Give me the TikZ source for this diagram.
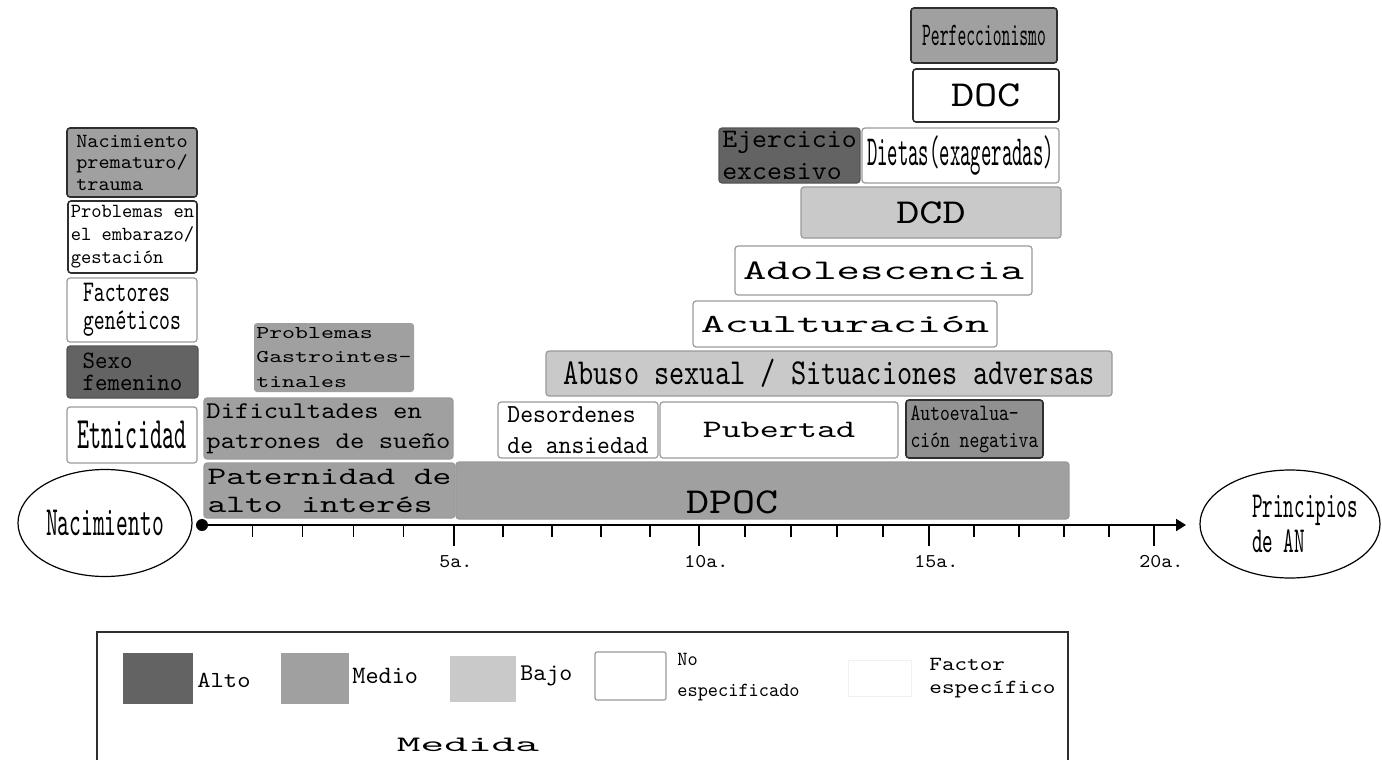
\documentclass[tikz,border=0pt]{standalone}
\usepackage{fontspec}
\newfontfamily\mono{lmmono10-regular.otf}
\usetikzlibrary{arrows.meta, shapes.geometric}
\definecolor{alto}{HTML}{636363}
\definecolor{medio}{HTML}{A0A0A0}
\definecolor{bajo}{HTML}{C9C9C9}
\definecolor{edge}{HTML}{9A9A9A}
\definecolor{darkedge}{HTML}{2E2E2E}
% size, leading, horizontal stretch
\newcommand\fz[3]{\fontsize{#1pt}{#2pt}\selectfont\addfontfeature{FakeStretch=#3}}

\begin{document}
\begin{tikzpicture}[x=0.5pt, y=-0.5pt,
    span/.style n args={4}{minimum width={(#3-#1)*0.5pt}, minimum height={(#4-#2)*0.5pt},
      at={({(#1+#3)/2},{(#2+#4)/2})}},
    fac/.style={draw=edge, rounded corners=1.5pt, line width=0.6pt, inner sep=0pt, align=left},
    hi/.style={fac, fill=alto, draw=alto!85!black},
    mid/.style={fac, fill=medio},
    low/.style={fac, fill=bajo},
    nsp/.style={fac, fill=white},
    strong/.style={draw=darkedge, line width=0.8pt},
    hito/.style={ellipse, draw, line width=0.6pt, inner sep=0pt, align=left},
    tick/.style={line width=0.6pt},
    sw/.style={inner sep=0pt},
    lbl/.style={inner sep=0pt, anchor=west, align=left}]
  \useasboundingbox (0,0) rectangle (1382,760);

  % left column: before birth
  \node[mid, strong, span={67}{128}{197}{197}, font=\mono\fz{10}{10.75}{1.06}] (nacprem)
    {Nacimiento\\prematuro/\\trauma};
  \node[nsp, strong, span={68}{201}{197}{273}, font=\mono\fz{10}{11.5}{0.98}] (embar)
    {Problemas en\\el embarazo/\\gestación};
  \node[nsp, span={67}{278}{197}{342}, font=\mono\fz{15}{14}{0.69}] (genet)
    {Factores\\genéticos};
  \node[hi, span={67}{346}{198}{398}, font=\mono\fz{12.5}{11}{0.95}] (sexo)
    {Sexo\\femenino};
  \node[nsp, span={67}{407}{197}{463}, font=\mono\fz{22.5}{24}{0.51}] (etni) {Etnicidad};

  % childhood
  \node[mid, draw=none, span={254}{323}{414}{392}, font=\mono\fz{9}{12.25}{1.37}] (gastro)
    {Problemas\\Gastrointes-\\tinales};
  \node[mid, span={204}{398}{453}{459}, font=\mono\fz{12}{15}{1.14}] (dific)
    {Dificultades en\\patrones de sueño};
  \node[mid, span={204}{463}{455}{518}, font=\mono\fz{12.5}{14}{1.43}] (pater)
    {Paternidad de\\alto interés};
  \node[mid, span={456}{462}{1069}{519}, text height=25.5pt, text depth=3pt,
    font=\mono\fz{18.3}{20}{1.2}] (dpoc) {DPOC\hspace*{30pt}};
  \node[nsp, span={498}{402}{658}{458}, font=\mono\fz{13}{15.5}{0.94}] (desord)
    {Desordenes\\de ansiedad};
  \node[nsp, span={660}{402}{898}{458}, font=\mono\fz{12.5}{14}{1.45}] (pub) {Pubertad};
  \node[fac, strong, fill=medio!90!black, span={906}{400}{1043}{458}, font=\mono\fz{11.7}{13.5}{0.8}] (autoev)
    {Autoevalua-\\ción negativa};

  % adolescence
  \node[low, span={546}{351}{1112}{396}, font=\mono\fz{18.3}{20}{0.79}] (abuso)
    {Abuso sexual / Situaciones adversas};
  \node[nsp, span={693}{301}{997}{347}, font=\mono\fz{13}{15}{1.76}] (acul) {Aculturación};
  \node[nsp, span={735}{246}{1032}{295}, font=\mono\fz{14.2}{16}{1.57}] (adol) {Adolescencia};
  \node[low, span={801}{187}{1061}{238}, font=\mono\fz{17.5}{20}{1.26}] (dcd) {DCD};
  \node[hi, span={719}{128}{860}{183}, font=\mono\fz{13.3}{16}{1.07}] (ejer)
    {Ejercicio\\excesivo};
  \node[nsp, span={862}{128}{1059}{183}, font=\mono\fz{21.5}{24}{0.46}] (dieta)
    {Dietas(exageradas)};
  \node[nsp, strong, span={913}{69}{1059}{122}, font=\mono\fz{18.3}{20}{1.21}] (doc) {DOC};
  \node[mid, strong, span={911}{8}{1057}{63}, font=\mono\fz{16.5}{18}{0.51}] (perf) {Perfeccionismo};

  % time axis
  \node[hito, minimum width=87pt, minimum height=53.5pt, font=\mono\fz{20.8}{22}{0.54}] (nac)
    at (105,523) {Nacimiento};
  \node[hito, minimum width=90pt, minimum height=54pt, font=\mono\fz{18.3}{17.5}{0.55}] (prin)
    at (1290,524) {\hspace*{7.5pt}Principios\hspace*{-7.5pt}\\\hspace*{7.5pt}de AN};
  \node[circle, fill, inner sep=0pt, minimum size=6pt] (orig) at (202,525) {};
  \coordinate (axend) at (1186,525);
  \draw[line width=1pt, -{Triangle[length=5pt, width=6pt]}] (orig.center) -- (axend);
  \foreach \a/\b [count=\i] in {202/454, 454/699, 699/929, 929/1154} {
    \foreach \k in {1,...,4}
      \draw[tick] ({\a+(\b-\a)*\k/5},525) -- ++(0,12);
    \draw[tick] (\b,525) -- ++(0,21);
    \pgfmathtruncatemacro\yr{5*\i}
    \node[inner sep=0pt, anchor=north west, font=\mono\fz{9.75}{11}{1.07}] (yr\i)
      at (\b-15,555) {\yr a.};
  }

  % legend
  \draw[line width=1pt, darkedge] (97,632) rectangle (1068,790);
  \node[sw, fill=alto, span={123}{653}{193}{704}] (swalto) {};
  \node[lbl, font=\mono\fz{11.5}{13}{1.1}] (lalto) at (197,680) {Alto};
  \node[sw, fill=medio, span={281}{653}{349}{704}] (swmedio) {};
  \node[lbl, font=\mono\fz{12.5}{14}{1.0}] (lmedio) at (352,676) {Medio};
  \node[sw, fill=bajo, span={450}{656}{516}{702}] (swbajo) {};
  \node[lbl, font=\mono\fz{12}{14}{1.03}] (lbajo) at (520,676) {Bajo};
  \node[sw, fill=white, draw=edge, line width=0.6pt, rounded corners=1pt, span={595}{652}{666}{700}] (swnsp) {};
  \node[lbl, font=\mono\fz{10}{15.5}{0.97}] (lnsp) at (677,677) {No\\especificado};
  \node[sw, fill=white, draw=black!6, span={848}{660}{911}{696}] (swfac) {};
  \node[lbl, font=\mono\fz{10}{11.5}{1.2}] (lfac) at (929,678) {Factor\\específico};
  \node[inner sep=0pt, font=\mono\fz{11}{13}{2.05}] (medida) at (468,745) {Medida};
\end{tikzpicture}
\end{document}
